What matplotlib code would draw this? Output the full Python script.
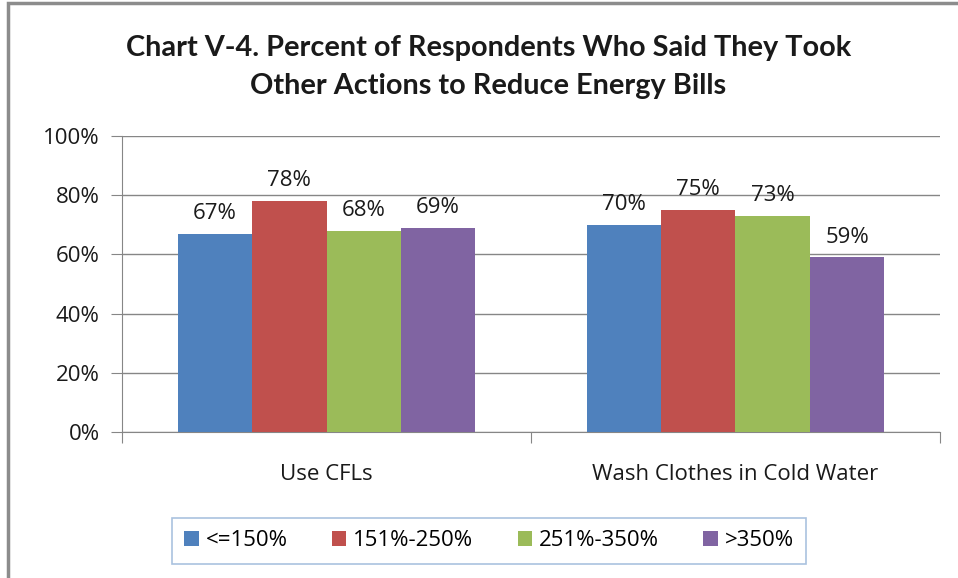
import numpy as np
import matplotlib.pyplot as plt
from matplotlib.patches import Rectangle
from matplotlib.ticker import FuncFormatter

categories = ["Use CFLs", "Wash Clothes in Cold Water"]
series = ["<=150%", "151%-250%", "251%-350%", ">350%"]
values = {
    "<=150%": [67, 70],
    "151%-250%": [78, 75],
    "251%-350%": [68, 73],
    ">350%": [69, 59],
}
colors = ["#4F81BD", "#C0504D", "#9BBB59", "#8064A2"]
title = "Chart V-4. Percent of Respondents Who Said They Took\nOther Actions to Reduce Energy Bills"

plt.rcParams["font.family"] = ["Open Sans", "DejaVu Sans"]
fs = 16
txt = "#1a1a1a"

W, H = 958, 578
fig = plt.figure(figsize=(W / 100, H / 100), dpi=100)
ax = fig.add_axes([122 / W, 1 - 432 / H, (940 - 122) / W, (432 - 136) / H])

# outer chart border
fig.patches.append(Rectangle((8 / W, -0.05), 1.1, 1 - 3 / H + 0.05,
                             transform=fig.transFigure, fill=False,
                             edgecolor="#8C8C8C", linewidth=2.5))

x = np.arange(len(categories))
bw = 1 / (4 + 1.5)
for i, (s, c) in enumerate(zip(series, colors)):
    pos = x + (i - 1.5) * bw
    bars = ax.bar(pos, values[s], width=bw, color=c, label=s, zorder=3)
    for b, v in zip(bars, values[s]):
        ax.annotate(f"{v}%", (b.get_x() + b.get_width() / 2, v),
                    xytext=(0, 7), textcoords="offset points",
                    ha="center", va="bottom", fontsize=fs, color=txt)

ax.set_xlim(-0.5, 1.5)
ax.set_ylim(0, 100)
ax.set_yticks(np.arange(0, 101, 20))
ax.yaxis.set_major_formatter(FuncFormatter(lambda v, p: f"{v:.0f}%"))
ax.grid(axis="y", color="#868686", linewidth=1, zorder=0)

ax.set_xticks([-0.5, 0.5, 1.5])
ax.set_xticklabels([])
ax.set_xticks(x, minor=True)
ax.set_xticklabels(categories, minor=True, fontsize=fs, color=txt)
ax.tick_params(axis="x", which="major", length=8, color="#868686", direction="out")
ax.tick_params(axis="x", which="minor", length=0, pad=23)
ax.tick_params(axis="y", length=8, color="#868686", labelsize=fs,
               labelcolor=txt, pad=8)

for side in ["top", "right"]:
    ax.spines[side].set_visible(False)
ax.spines["left"].set_color("#868686")
ax.spines["bottom"].set_color("#868686")

fig.text(0.5 * (125 + 852) / W, 1 - 67 / H, title, ha="center", va="center",
         fontsize=20.8, fontweight="bold", linespacing=1.55, color=txt,
         family=["Lato", "DejaVu Sans"])

leg = fig.legend(loc="center", bbox_to_anchor=(489 / W, 1 - 541 / H), ncol=4,
                 frameon=True, fancybox=False, fontsize=fs, handlelength=0.65,
                 handleheight=0.65, handletextpad=0.3, columnspacing=2.0,
                 borderpad=0.55, borderaxespad=0)
leg.get_frame().set_edgecolor("#95B3D7")
leg.get_frame().set_linewidth(1.2)

fig.savefig("out.png", dpi=100)
